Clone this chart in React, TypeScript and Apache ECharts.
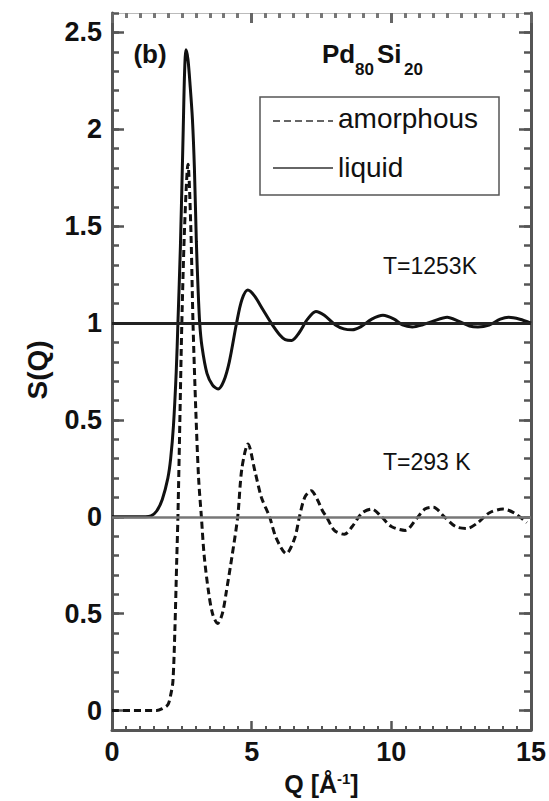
import React, { useEffect, useRef } from "react";
import * as echarts from "echarts";

// Liquid S(Q), T = 1253 K
const Q_LIQUID = [0, 1.2, 1.4, 1.6, 1.8, 2.0, 2.1, 2.2, 2.3, 2.36, 2.45, 2.55, 2.6, 2.65, 2.72, 2.8, 2.88, 2.95, 3.02, 3.08, 3.14, 3.22, 3.4, 3.6, 3.8, 4.0, 4.2, 4.46, 4.65, 4.86, 5.1, 5.4, 5.7, 6.0, 6.2, 6.43, 6.7, 7.0, 7.3, 7.6, 8.0, 8.3, 8.6, 8.9, 9.3, 9.7, 10.1, 10.4, 10.75, 11.1, 11.5, 12.0, 12.4, 12.8, 13.1, 13.5, 13.9, 14.2, 14.6, 15.0];
const S_LIQUID = [0, 0, 0.005, 0.03, 0.09, 0.2, 0.3, 0.47, 0.75, 1.0, 1.4, 2.0, 2.3, 2.41, 2.36, 2.22, 2.05, 1.8, 1.42, 1.18, 1.0, 0.88, 0.74, 0.68, 0.66, 0.7, 0.8, 1.0, 1.12, 1.17, 1.14, 1.07, 1.0, 0.94, 0.915, 0.91, 0.95, 1.02, 1.06, 1.04, 0.99, 0.97, 0.965, 0.98, 1.02, 1.04, 1.02, 0.99, 0.98, 0.99, 1.01, 1.03, 1.01, 0.985, 0.98, 0.99, 1.02, 1.03, 1.02, 1.0];

// Amorphous S(Q), T = 293 K (plotted shifted down by 1)
const Q_AMORPH = [0, 1.6, 1.8, 2.0, 2.1, 2.18, 2.25, 2.32, 2.36, 2.43, 2.5, 2.6, 2.72, 2.82, 2.9, 3.0, 3.1, 3.2, 3.3, 3.45, 3.6, 3.78, 3.95, 4.1, 4.3, 4.5, 4.65, 4.87, 5.11, 5.35, 5.64, 5.88, 6.24, 6.54, 6.71, 6.9, 7.13, 7.35, 7.54, 7.68, 7.96, 8.32, 8.6, 8.95, 9.3, 9.65, 10.0, 10.5, 10.9, 11.2, 11.5, 11.9, 12.3, 12.7, 13.1, 13.5, 14.0, 14.4, 14.85];
const S_AMORPH = [0, 0, 0.01, 0.03, 0.08, 0.15, 0.41, 0.79, 1.0, 1.5, 2.0, 2.5, 2.82, 2.5, 2.0, 1.55, 1.2, 1.0, 0.8, 0.62, 0.5, 0.45, 0.5, 0.62, 0.8, 1.0, 1.25, 1.376, 1.24, 1.1, 1.0, 0.89, 0.81, 0.89, 1.0, 1.1, 1.135, 1.09, 1.03, 1.0, 0.93, 0.91, 0.95, 1.02, 1.04, 1.0, 0.95, 0.93, 0.99, 1.04, 1.05, 1.0, 0.95, 0.94, 0.97, 1.02, 1.04, 1.02, 0.97];
const AMORPH_OFFSET = -1;

// Axis ticks
const Y_MAJOR = [-1, -0.5, 0, 0.5, 1, 1.5, 2, 2.5];
const Y_MINOR = [-1.1, -1, -0.9, -0.8, -0.7, -0.6, -0.5, -0.4, -0.3, -0.2, -0.1, 0, 0.1, 0.2, 0.3, 0.4, 0.5, 0.6, 0.7, 0.8, 0.9, 1, 1.1, 1.2, 1.3, 1.4, 1.5, 1.6, 1.7, 1.8, 1.9, 2, 2.1, 2.2, 2.3, 2.4, 2.5, 2.6];

const FONT = "Liberation Sans, Arial, Helvetica, sans-serif";
const AXIS_COLOR = "#555";
const TICK_COLOR = "#555";

export default function App() {
  const ref = useRef<HTMLDivElement>(null);

  useEffect(() => {
    if (!ref.current) return;
    const chart = echarts.init(ref.current, undefined, { renderer: "svg" });

    const liquid = Q_LIQUID.map((q, i) => [q, S_LIQUID[i]]);
    const amorph = Q_AMORPH.map((q, i) => [q, S_AMORPH[i] + AMORPH_OFFSET]);

    const yCommon = { type: "value", min: -1.1, max: 2.6, splitLine: { show: false } };

    chart.setOption({
      animation: false,
      backgroundColor: "#fff",
      grid: { left: 112, right: 17, top: 13, bottom: 70 },
      xAxis: [
        {
          type: "value",
          position: "bottom",
          min: 0,
          max: 15,
          interval: 5,
          splitLine: { show: false },
          axisLine: { show: true, onZero: false, lineStyle: { color: AXIS_COLOR, width: 3 } },
          axisTick: { show: true, inside: true, length: 9, lineStyle: { color: TICK_COLOR, width: 2.5 } },
          minorTick: { show: true, splitNumber: 10, length: 4, lineStyle: { color: TICK_COLOR, width: 2 } },
          axisLabel: { fontSize: 27, fontWeight: "bold", color: "#111", fontFamily: FONT, margin: 8 },
          name: "{n|Q [Å}{s|-1}{n|]}",
          nameLocation: "middle",
          nameGap: 41,
          nameTextStyle: {
            rich: {
              n: { fontSize: 25, fontWeight: "bold", color: "#111", fontFamily: FONT },
              s: { fontSize: 15, fontWeight: "bold", color: "#111", fontFamily: FONT, verticalAlign: "top", padding: [0, 0, 8, 0] },
            },
          },
        },
        {
          type: "value",
          position: "top",
          min: 0,
          max: 15,
          interval: 5,
          splitLine: { show: false },
          axisLine: { show: true, onZero: false, lineStyle: { color: "#bbb", width: 1 } },
          axisTick: { show: true, inside: true, length: 10, lineStyle: { color: "#666", width: 3 } },
          minorTick: { show: true, splitNumber: 10, length: 5, lineStyle: { color: "#777", width: 3 } },
          axisLabel: { show: false },
        },
      ],
      yAxis: [
        {
          ...yCommon,
          position: "left",
          axisLine: { show: true, onZero: false, lineStyle: { color: AXIS_COLOR, width: 3 } },
          axisTick: { show: true, inside: true, length: 12, customValues: Y_MAJOR, lineStyle: { color: TICK_COLOR, width: 2.5 } },
          axisLabel: {
            customValues: Y_MAJOR,
            fontSize: 27,
            fontWeight: "bold",
            color: "#111",
            fontFamily: FONT,
            margin: 10,
            formatter: (v: number) => String(Math.round((v < 0 ? v + 1 : v) * 10) / 10),
          },
        },
        {
          ...yCommon,
          position: "left",
          axisLine: { show: false, onZero: false },
          axisTick: { show: true, inside: true, length: 7, customValues: Y_MINOR, lineStyle: { color: TICK_COLOR, width: 2.5 } },
          axisLabel: { show: false },
        },
        {
          ...yCommon,
          position: "right",
          axisLine: { show: true, onZero: false, lineStyle: { color: AXIS_COLOR, width: 3 } },
          axisTick: { show: true, inside: true, length: 12, customValues: Y_MAJOR, lineStyle: { color: TICK_COLOR, width: 2.5 } },
          axisLabel: { show: false },
        },
        {
          ...yCommon,
          position: "right",
          axisLine: { show: false, onZero: false },
          axisTick: { show: true, inside: true, length: 7, customValues: Y_MINOR, lineStyle: { color: TICK_COLOR, width: 2.5 } },
          axisLabel: { show: false },
        },
      ],
      series: [
        {
          name: "liquid",
          type: "line",
          data: liquid,
          xAxisIndex: 0,
          yAxisIndex: 0,
          showSymbol: false,
          smooth: 0.3,
          lineStyle: { color: "#111", width: 3, type: "solid" },
          markLine: {
            silent: true,
            symbol: ["none", "none"],
            label: { show: false },
            lineStyle: { color: "#222", width: 3, type: "solid" },
            data: [{ yAxis: 1 }],
          },
        },
        {
          name: "amorphous",
          type: "line",
          data: amorph,
          xAxisIndex: 0,
          yAxisIndex: 0,
          showSymbol: false,
          smooth: 0.3,
          lineStyle: { color: "#111", width: 3, type: [7, 4] },
          markLine: {
            silent: true,
            symbol: ["none", "none"],
            label: { show: false },
            lineStyle: { color: "#777", width: 2.5, type: "solid" },
            data: [{ yAxis: 0 }],
          },
        },
      ],
      graphic: [
        {
          type: "text",
          x: 37,
          y: 370,
          rotation: Math.PI / 2,
          style: { text: "S(Q)", fontSize: 28, fontWeight: "bold", fill: "#111", fontFamily: FONT, align: "center", verticalAlign: "middle" },
        },
        {
          type: "text",
          x: 150,
          y: 54,
          style: { text: "(b)", fontSize: 26, fontWeight: "bold", fill: "#111", fontFamily: FONT, align: "center", verticalAlign: "middle" },
        },
        { type: "text", x: 322, y: 54, style: { text: "Pd", fontSize: 26, fontWeight: "bold", fill: "#111", fontFamily: FONT, align: "left", verticalAlign: "middle" } },
        { type: "text", x: 355, y: 69, style: { text: "80", fontSize: 17, fontWeight: "bold", fill: "#111", fontFamily: FONT, align: "left", verticalAlign: "middle" } },
        { type: "text", x: 377, y: 54, style: { text: "Si", fontSize: 26, fontWeight: "bold", fill: "#111", fontFamily: FONT, align: "left", verticalAlign: "middle" } },
        { type: "text", x: 404, y: 69, style: { text: "20", fontSize: 17, fontWeight: "bold", fill: "#111", fontFamily: FONT, align: "left", verticalAlign: "middle" } },
        {
          type: "rect",
          shape: { x: 260, y: 97, width: 239, height: 98 },
          style: { fill: "none", stroke: "#555", lineWidth: 1.5 },
        },
        {
          type: "line",
          shape: { x1: 273, y1: 121, x2: 333, y2: 121 },
          style: { stroke: "#333", lineWidth: 1.5, lineDash: [7, 4] },
        },
        {
          type: "line",
          shape: { x1: 273, y1: 168, x2: 333, y2: 168 },
          style: { stroke: "#333", lineWidth: 1.5 },
        },
        { type: "text", x: 338, y: 118, style: { text: "amorphous", fontSize: 28, fill: "#111", fontFamily: FONT, align: "left", verticalAlign: "middle" } },
        { type: "text", x: 338, y: 167, style: { text: "liquid", fontSize: 28, fill: "#111", fontFamily: FONT, align: "left", verticalAlign: "middle" } },
        { type: "text", x: 383, y: 266, style: { text: "T=1253K", fontSize: 23, fill: "#111", fontFamily: FONT, align: "left", verticalAlign: "middle" } },
        { type: "text", x: 383, y: 462, style: { text: "T=293 K", fontSize: 23, fill: "#111", fontFamily: FONT, align: "left", verticalAlign: "middle" } },
      ],
    });

    return () => chart.dispose();
  }, []);

  return (
    <div
      ref={ref}
      style={{ position: "fixed", left: 0, top: 0, width: 549, height: 801, background: "#fff" }}
    />
  );
}
